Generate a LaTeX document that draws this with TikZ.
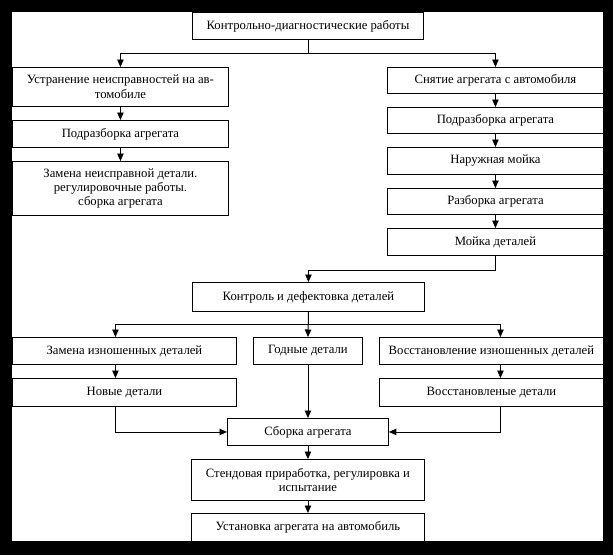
\documentclass[tikz,border=0pt]{standalone}
\usepackage{fontspec}
\setmainfont{Liberation Serif}
\usetikzlibrary{arrows.meta}
\tikzset{
  box/.style={draw=black, line width=0.9pt, inner sep=0pt, align=center, anchor=north west,
    font=\fontsize{12.7}{14}\selectfont, text=black},
  arr/.style={draw=black, line width=0.9pt, -{Triangle[length=7.5pt,width=6.5pt]}},
  ln/.style={draw=black, line width=0.9pt}
}
\begin{document}
\begin{tikzpicture}[x=1pt,y=-1pt]
\fill[black] (0,0) rectangle (613,555);
\fill[white] (12,12) rectangle (603,541);
\useasboundingbox (0,0) rectangle (613,555);

\node[box, minimum width=231pt, minimum height=27pt] (top) at (192,12) {Контрольно-диагностические работы};

\node[box, minimum width=216pt, minimum height=39pt] (l1) at (12,67) {Устранение неисправностей на ав-\\[1pt]томобиле};
\node[box, minimum width=216pt, minimum height=27pt] (l2) at (12,120) {Подразборка агрегата};
\node[box, minimum width=216pt, minimum height=54pt] (l3) at (12,161) {Замена неисправной детали.\\регулировочные работы.\\сборка агрегата};

\node[box, minimum width=216pt, minimum height=26pt] (r1) at (387,67) {Снятие агрегата с автомобиля};
\node[box, minimum width=216pt, minimum height=26pt] (r2) at (387,107) {Подразборка агрегата};
\node[box, minimum width=216pt, minimum height=27pt] (r3) at (387,147) {Наружная мойка};
\node[box, minimum width=216pt, minimum height=26pt] (r4) at (387,188) {Разборка агрегата};
\node[box, minimum width=216pt, minimum height=27pt] (r5) at (387,228) {Мойка деталей};

\node[box, minimum width=232pt, minimum height=29pt] (kon) at (192,282) {Контроль и дефектовка деталей};

\node[box, minimum width=224pt, minimum height=27pt] (zam) at (12,337) {Замена изношенных деталей};
\node[box, minimum width=109pt, minimum height=27pt] (god) at (253,337) {Годные детали};
\node[box, minimum width=224pt, minimum height=27pt] (vos) at (379,337) {Восстановление изношенных деталей};

\node[box, minimum width=224pt, minimum height=28pt] (nov) at (12,378) {Новые детали};
\node[box, minimum width=224pt, minimum height=28pt] (vsd) at (379,378) {Восстановленые детали};

\node[box, minimum width=161pt, minimum height=27pt] (sb) at (227,418) {Сборка агрегата};
\node[box, minimum width=233pt, minimum height=41pt] (st) at (191,459) {Стендовая приработка, регулировка и\\испытание};
\node[box, minimum width=233pt, minimum height=28pt] (us) at (191,513) {Установка агрегата на автомобиль};

% connectors
\draw[arr] (top.south) -- ++(0,14) -| (l1.north);
\draw[arr] (top.south) -- ++(0,14) -| (r1.north);
\draw[arr] (l1) -- (l2);
\draw[arr] (l2) -- (l3);
\draw[arr] (r1) -- (r2);
\draw[arr] (r2) -- (r3);
\draw[arr] (r3) -- (r4);
\draw[arr] (r4) -- (r5);
\draw[arr] (r5.south) -- ++(0,15) -| (kon.north);
\draw[arr] (kon.south) -- ++(0,13) -| ([xshift=-9pt]zam.north);
\draw[arr] (kon.south) -- (god.north);
\draw[arr] (kon.south) -- ++(0,13) -| ([xshift=9pt]vos.north);
\draw[arr] ([xshift=-9pt]zam.south) -- ([xshift=-9pt]nov.north);
\draw[arr] ([xshift=9pt]vos.south) -- ([xshift=9pt]vsd.north);
\draw[arr] (god.south) -- (sb.north);
\draw[arr] ([xshift=-9pt]nov.south) |- (sb.west);
\draw[arr] ([xshift=9pt]vsd.south) |- (sb.east);
\draw[arr] (sb) -- (st);
\draw[arr] (st) -- (us);
\end{tikzpicture}
\end{document}
